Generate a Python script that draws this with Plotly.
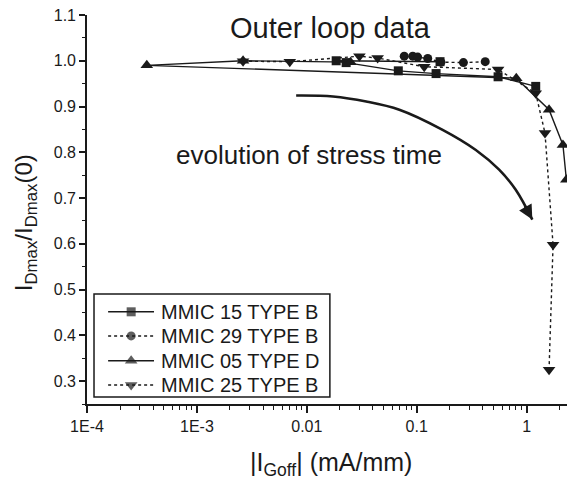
import numpy as np
import plotly.graph_objects as go

FONT = "Liberation Sans, Arial, sans-serif"
INK = "#1a1a1a"

# |I_Goff| (mA/mm) and normalised I_Dmax for each device, in measurement order
mmic15_x = [0.163, 0.0185, 0.0228, 0.068, 0.150, 0.55, 1.21]
mmic15_y = [0.998, 1.000, 0.996, 0.978, 0.972, 0.965, 0.944]

mmic29_x = [0.077, 0.092, 0.102, 0.126, 0.166, 0.266, 0.42]
mmic29_y = [1.010, 1.010, 1.008, 1.005, 0.997, 0.996, 0.998]

mmic05_x = [0.025, 0.00263, 0.00035, 0.805, 1.60, 2.14, 2.30]
mmic05_y = [0.997, 1.000, 0.990, 0.962, 0.893, 0.816, 0.740]

mmic25_x = [0.00263, 0.0070, 0.0301, 0.0441, 0.117, 0.55, 1.21, 1.47, 1.74, 1.60]
mmic25_y = [0.999, 0.998, 1.010, 1.006, 0.987, 0.981, 0.929, 0.842, 0.598, 0.325]

series_names = ["MMIC 15 TYPE B", "MMIC 29 TYPE B", "MMIC 05 TYPE D", "MMIC 25 TYPE B"]

# guide arrow showing the direction of increasing stress time
arrow_x = [0.0080, 0.0173, 0.0347, 0.0695, 0.172, 0.345, 0.562, 0.796, 1.127]
arrow_y = [0.924, 0.922, 0.911, 0.893, 0.849, 0.805, 0.762, 0.718, 0.653]

x_tickvals = [1e-4, 1e-3, 1e-2, 1e-1, 1]
x_ticktext = ["1E-4", "1E-3", "0.01", "0.1", "1"]
x_minor = [k * 10.0 ** n for n in range(-4, 1) for k in range(2, 10)]
y_tickvals = [0.3, 0.4, 0.5, 0.6, 0.7, 0.8, 0.9, 1.0, 1.1]
y_minor = [0.25, 0.35, 0.45, 0.55, 0.65, 0.75, 0.85, 0.95, 1.05]

styles = [
    ("square", "solid", 9),
    ("circle", "dot", 9),
    ("triangle-up", "solid", 11),
    ("triangle-down", "dot", 11),
]
series = [(mmic15_x, mmic15_y), (mmic29_x, mmic29_y),
          (mmic05_x, mmic05_y), (mmic25_x, mmic25_y)]

fig = go.Figure()

for name, (xs, ys), (sym, dash, size) in zip(series_names, series, styles):
    fig.add_trace(go.Scatter(
        x=xs, y=ys, name=name, mode="lines+markers", showlegend=False,
        line=dict(color=INK, width=1.4, dash=dash),
        marker=dict(symbol=sym, size=size, color=INK, line=dict(width=0)),
    ))

fig.add_trace(go.Scatter(
    x=arrow_x, y=arrow_y, mode="lines", showlegend=False, hoverinfo="skip",
    line=dict(color=INK, width=2.6, shape="spline", smoothing=1.0),
))

# arrowhead at the end of the guide curve
tip_x, tip_y = arrow_x[-1], arrow_y[-1]
tail_lx = 0.5 * (np.log10(arrow_x[-2]) + np.log10(tip_x))
tail_y = 0.5 * (arrow_y[-2] + tip_y)
fig.add_annotation(
    x=np.log10(tip_x), y=tip_y, ax=tail_lx, ay=tail_y,
    xref="x", yref="y", axref="x", ayref="y",
    showarrow=True, arrowhead=2, arrowsize=1.1, arrowwidth=2.6,
    arrowcolor=INK, text="", standoff=0,
)

# boxed key in the lower-left corner, drawn on a unit overlay axis
LEG_BOX = (0.0146, 0.018, 0.506, 0.283)
LEG_ROWS = [0.237, 0.175, 0.111, 0.049]
LEG_LINE = (0.044, 0.092, 0.1396)
LEG_TEXT_X = 0.150

fig.add_shape(type="rect", xref="paper", yref="paper",
              x0=LEG_BOX[0], y0=LEG_BOX[1], x1=LEG_BOX[2], y1=LEG_BOX[3],
              line=dict(color=INK, width=1.5), fillcolor="white", layer="below")
for name, row, (sym, dash, size) in zip(series_names, LEG_ROWS, styles):
    fig.add_trace(go.Scatter(
        x=list(LEG_LINE), y=[row] * 3, xaxis="x2", yaxis="y2",
        mode="lines+markers", showlegend=False, hoverinfo="skip",
        line=dict(color=INK, width=1.4, dash=dash),
        marker=dict(symbol=sym, size=[0, size, 0], color=INK, line=dict(width=0)),
    ))
    fig.add_annotation(
        text=name, xref="paper", yref="paper", x=LEG_TEXT_X, y=row,
        xanchor="left", yanchor="middle", showarrow=False,
        font=dict(family=FONT, size=20, color=INK),
    )

fig.add_annotation(
    text="Outer loop data", xref="paper", yref="paper",
    x=0.508, y=0.966, xanchor="center", yanchor="middle", showarrow=False,
    font=dict(family=FONT, size=29, color=INK),
)
fig.add_annotation(
    text="evolution of stress time", xref="paper", yref="paper",
    x=0.4625, y=0.641, xanchor="center", yanchor="middle", showarrow=False,
    font=dict(family=FONT, size=26, color=INK),
)

# axis titles
fig.add_annotation(
    text="I<sub>Dmax</sub>/I<sub>Dmax</sub>(0)", xref="paper", yref="paper",
    x=-0.129, y=0.465, xanchor="center", yanchor="middle", textangle=-90,
    showarrow=False, font=dict(family=FONT, size=24, color=INK),
)
fig.add_annotation(
    text="|I<sub>Goff</sub>| (mA/mm)", xref="paper", yref="paper",
    x=0.508, y=-0.155, xanchor="center", yanchor="middle",
    showarrow=False, font=dict(family=FONT, size=25, color=INK),
)

fig.update_layout(
    width=567, height=479,
    margin=dict(l=87, r=0, t=15, b=75),
    paper_bgcolor="white", plot_bgcolor="white",
    font=dict(family=FONT, color=INK),
    showlegend=False,
    xaxis=dict(
        type="log", range=[-4, np.log10(2.33)],
        tickmode="array", tickvals=x_tickvals, ticktext=x_ticktext,
        ticks="outside", ticklen=7, tickwidth=1.5, tickcolor=INK,
        showline=True, linewidth=1.6, linecolor=INK,
        showgrid=False, zeroline=False,
        tickfont=dict(family=FONT, size=16, color=INK),
        minor=dict(tickmode="array", tickvals=x_minor, ticks="outside",
                   ticklen=4, tickwidth=1.2, tickcolor=INK, showgrid=False),
    ),
    yaxis=dict(
        range=[0.25, 1.1],
        tickmode="array", tickvals=y_tickvals,
        ticktext=[f"{v:.1f}" for v in y_tickvals],
        ticks="outside", ticklen=6, tickwidth=1.5, tickcolor=INK,
        showline=True, linewidth=1.6, linecolor=INK,
        showgrid=False, zeroline=False,
        tickfont=dict(family=FONT, size=16, color=INK),
        minor=dict(tickmode="array", tickvals=y_minor, ticks="outside",
                   ticklen=3, tickwidth=1.2, tickcolor=INK, showgrid=False),
    ),
    xaxis2=dict(overlaying="x", range=[0, 1], visible=False, fixedrange=True),
    yaxis2=dict(overlaying="y", range=[0, 1], visible=False, fixedrange=True),
)

fig.write_html("out.html")
